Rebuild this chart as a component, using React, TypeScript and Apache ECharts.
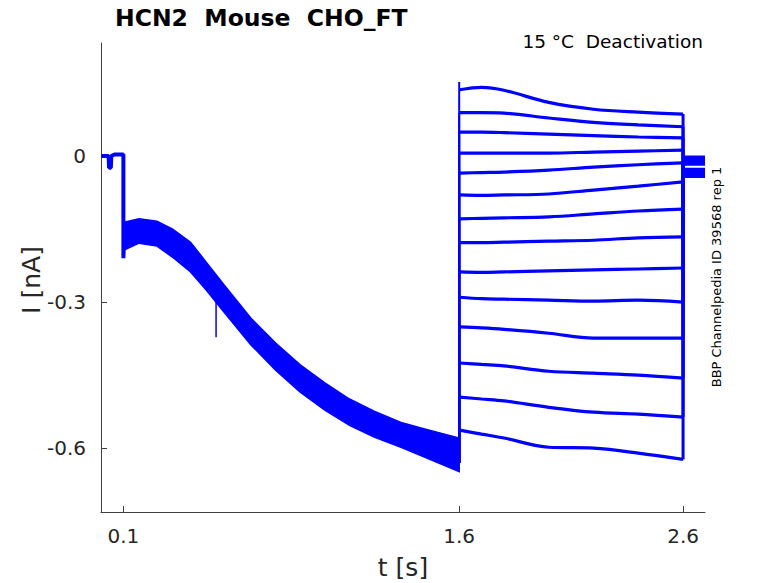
import React, { useEffect, useRef } from "react";
import * as echarts from "echarts";

// Axis ticks
const xTicks = [0.1, 1.6, 2.6];
const yTicks = [-0.6, -0.3, 0];

// Holding segment before the activation step (t in s, I in nA)
const preT = [0.002, 0.034, 0.036, 0.044, 0.046, 0.06, 0.1, 0.1, 0.103];
const preI = [0.0, 0.0, -0.024, -0.024, 0.0, 0.003, 0.003, -0.21, -0.17];

// Activation phase envelope (many overlapping noisy sweeps)
const actT = [0.103, 0.17, 0.25, 0.32, 0.4, 0.47, 0.55, 0.67, 0.78, 0.89, 1.0, 1.11, 1.22, 1.34, 1.45, 1.6];
const actUpper = [-0.136, -0.129, -0.134, -0.15, -0.177, -0.218, -0.265, -0.333, -0.384, -0.429, -0.466, -0.499, -0.524, -0.547, -0.561, -0.579];
const actLower = [-0.193, -0.179, -0.185, -0.208, -0.238, -0.275, -0.321, -0.388, -0.44, -0.485, -0.522, -0.553, -0.577, -0.598, -0.619, -0.648];

// Artifact spike during activation
const artifactT = [0.514, 0.514];
const artifactI = [-0.3, -0.372];

// Tail currents (deactivation steps)
const tailT = [1.602, 1.7, 1.8, 2.0, 2.2, 2.4, 2.6];
const tail1 = [0.136, 0.141, 0.135, 0.11, 0.096, 0.09, 0.086];
const tail2 = [0.089, 0.089, 0.088, 0.078, 0.069, 0.064, 0.06];
const tail3 = [0.049, 0.049, 0.048, 0.045, 0.042, 0.039, 0.037];
const tail4 = [0.006, 0.006, 0.006, 0.006, 0.008, 0.01, 0.012];
const tail5 = [-0.035, -0.034, -0.033, -0.029, -0.023, -0.018, -0.014];
const tail6 = [-0.08, -0.081, -0.08, -0.078, -0.07, -0.062, -0.053];
const tail7 = [-0.129, -0.128, -0.127, -0.125, -0.119, -0.113, -0.109];
const tail8 = [-0.178, -0.178, -0.177, -0.175, -0.173, -0.168, -0.166];
const tail9 = [-0.238, -0.239, -0.238, -0.236, -0.234, -0.232, -0.23];
const tail10 = [-0.29, -0.293, -0.294, -0.296, -0.298, -0.296, -0.3];
const tail11 = [-0.351, -0.353, -0.356, -0.364, -0.374, -0.374, -0.374];
const tail12 = [-0.425, -0.428, -0.431, -0.442, -0.446, -0.45, -0.456];
const tail13 = [-0.495, -0.499, -0.503, -0.516, -0.526, -0.53, -0.536];
const tail14 = [-0.563, -0.571, -0.579, -0.598, -0.6, -0.61, -0.623];
const tails = [tail1, tail2, tail3, tail4, tail5, tail6, tail7, tail8, tail9, tail10, tail11, tail12, tail13, tail14];

// Level after returning to holding potential, per sweep
const returnI = [-0.002, -0.03, -0.006, -0.034, -0.01, -0.038, -0.014, -0.042, -0.017, -0.027, -0.004, -0.04, -0.012, -0.036];
const stepT = 1.6;
const offT = 2.6;
const endT = 2.698;
const stepStartI = -0.63;
const onsetSpikeI = 0.152;

const BLUE = "#0000ff";
const FONT = "'DejaVu Sans', sans-serif";

export default function App() {
  const ref = useRef<HTMLDivElement>(null);

  useEffect(() => {
    if (!ref.current) return;
    const chart = echarts.init(ref.current, undefined, { renderer: "svg" });

    const lineSeries: any[] = [];

    lineSeries.push({
      type: "line",
      data: preT.map((t, i) => [t, preI[i]]),
      showSymbol: false,
      lineStyle: { color: BLUE, width: 4 },
      clip: true,
      z: 3,
    });

    lineSeries.push({
      type: "custom",
      data: [[actT[0], actUpper[0]]],
      renderItem: (params: any, api: any) => {
        const pts: number[][] = [];
        for (let i = 0; i < actT.length; i++) pts.push(api.coord([actT[i], actUpper[i]]));
        for (let i = actT.length - 1; i >= 0; i--) pts.push(api.coord([actT[i], actLower[i]]));
        return {
          type: "polygon",
          shape: { points: pts, smooth: 0 },
          style: { fill: BLUE, stroke: BLUE, lineWidth: 1.5 },
        };
      },
      clip: true,
      z: 2,
    });

    lineSeries.push({
      type: "line",
      data: artifactT.map((t, i) => [t, artifactI[i]]),
      showSymbol: false,
      lineStyle: { color: BLUE, width: 1.5 },
      z: 3,
    });

    tails.forEach((tail, k) => {
      // smooth tail current
      lineSeries.push({
        type: "line",
        data: tail.map((v, i) => [tailT[i], v]),
        showSymbol: false,
        smooth: 0.35,
        lineStyle: { color: BLUE, width: 3.2 },
        clip: true,
        z: 3,
      });
      // vertical step onset
      const on: number[][] = [[stepT, stepStartI]];
      if (k === 0) on.push([stepT, onsetSpikeI]);
      on.push([stepT, tail[0]]);
      on.push([tailT[0], tail[0]]);
      lineSeries.push({
        type: "line",
        data: on,
        showSymbol: false,
        lineStyle: { color: BLUE, width: 2 },
        clip: true,
        z: 3,
      });
      // step offset and return to holding
      lineSeries.push({
        type: "line",
        data: [
          [offT, tail[tail.length - 1]],
          [offT, returnI[k]],
          [endT, returnI[k]],
        ],
        showSymbol: false,
        lineStyle: { color: BLUE, width: 3 },
        clip: true,
        z: 3,
      });
    });

    const axisColor = "#404040";
    const labelColor = "#262626";

    chart.setOption({
      animation: false,
      backgroundColor: "#ffffff",
      grid: { left: 101, right: 73, top: 43, bottom: 71, containLabel: false },
      xAxis: {
        type: "value",
        min: 0,
        max: endT,
        axisLine: { show: true, onZero: false, lineStyle: { color: axisColor, width: 1 } },
        axisTick: { show: true, inside: true, length: 6, customValues: xTicks, lineStyle: { color: axisColor } },
        axisLabel: {
          customValues: xTicks,
          fontSize: 20,
          fontFamily: FONT,
          color: labelColor,
          margin: 14,
          formatter: (v: number) => String(v),
        },
        splitLine: { show: false },
      },
      yAxis: {
        type: "value",
        min: -0.731,
        max: 0.232,
        axisLine: { show: true, onZero: false, lineStyle: { color: axisColor, width: 1 } },
        axisTick: { show: true, inside: true, length: 6, customValues: yTicks, lineStyle: { color: axisColor } },
        axisLabel: {
          customValues: yTicks,
          fontSize: 20,
          fontFamily: FONT,
          color: labelColor,
          margin: 15,
          formatter: (v: number) => String(v),
        },
        splitLine: { show: false },
      },
      graphic: [
        {
          type: "text",
          x: 115,
          y: 18,
          style: {
            text: "HCN2  Mouse  CHO_FT",
            font: `bold 23.5px ${FONT}`,
            fill: "#000000",
            align: "left",
            verticalAlign: "middle",
            textAlign: "left",
            textVerticalAlign: "middle",
          },
        },
        {
          type: "text",
          x: 703,
          y: 41,
          style: {
            text: "15 °C  Deactivation",
            font: `18.5px ${FONT}`,
            fill: "#000000",
            align: "right",
            verticalAlign: "middle",
            textAlign: "right",
            textVerticalAlign: "middle",
          },
        },
        {
          type: "text",
          x: 403,
          y: 567,
          style: {
            text: "t [s]",
            font: `25px ${FONT}`,
            fill: labelColor,
            align: "center",
            verticalAlign: "middle",
            textAlign: "center",
            textVerticalAlign: "middle",
          },
        },
        {
          type: "text",
          x: 31,
          y: 280,
          rotation: Math.PI / 2,
          style: {
            text: "I [nA]",
            font: `25px ${FONT}`,
            fill: labelColor,
            align: "center",
            verticalAlign: "middle",
            textAlign: "center",
            textVerticalAlign: "middle",
          },
        },
        {
          type: "text",
          x: 716,
          y: 277,
          rotation: Math.PI / 2,
          style: {
            text: "BBP Channelpedia ID 39568 rep 1",
            font: `13px ${FONT}`,
            fill: "#000000",
            align: "center",
            verticalAlign: "middle",
            textAlign: "center",
            textVerticalAlign: "middle",
          },
        },
      ],
      series: lineSeries,
    });

    return () => chart.dispose();
  }, []);

  return (
    <div
      ref={ref}
      style={{ position: "absolute", left: 0, top: 0, width: 778, height: 583 }}
    />
  );
}
